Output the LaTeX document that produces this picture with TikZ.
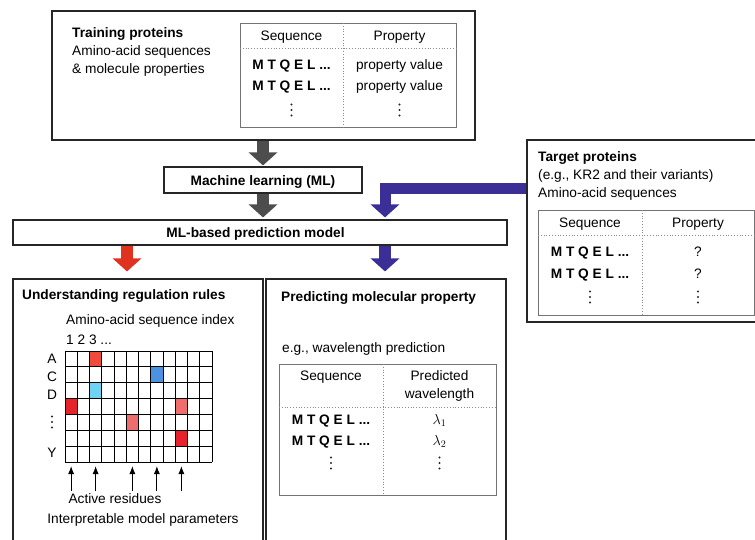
\documentclass[tikz,border=0pt]{standalone}
\usepackage{amsmath}
\usepackage{fontspec}
\setmainfont{Liberation Sans}
\usetikzlibrary{arrows.meta,calc,positioning}

\definecolor{arrgray}{HTML}{4D4D4D}
\definecolor{arrblue}{HTML}{3B2E96}
\definecolor{arrred}{HTML}{E0331F}
\definecolor{cellred}{HTML}{E6222C}
\definecolor{cellorange}{HTML}{F04A3A}
\definecolor{cellpink}{HTML}{EE6E6E}
\definecolor{cellblue}{HTML}{4B93E0}
\definecolor{cellcyan}{HTML}{6FD4F4}

\begin{document}
\begin{tikzpicture}[x=1pt, y=-1pt, >=latex,
  every node/.style={font=\fontsize{13.7}{16.5}\selectfont},
  box/.style={draw=black!85, line width=1.1pt, inner sep=0pt},
  tab/.style={draw=black!55, line width=1pt, inner sep=0pt},
  sep/.style={draw=black!45, dotted, line width=0.8pt},
  lbl/.style={anchor=base west, inner sep=0pt},
  ctr/.style={anchor=base, inner sep=0pt},
  seqtxt/.style={anchor=base, inner sep=0pt,
    font=\fontsize{13.7}{16.5}\selectfont\bfseries},
  fat/.style={line width=12pt, -{Triangle[width=28pt,length=13pt]}},
  gridline/.style={line width=1pt, black},
  coldots/.pic={\foreach \k in {-5.5,0,5.5} \fill[black!85] (0,\k) circle (1.1pt);},
]

  % 画布范围
  \useasboundingbox (0,0) rectangle (755,539);

  % 网格参数
  \def\gx{65}
  \def\gy{351}
  \def\cw{12.25}
  \def\rh{15.86}

  % 外框
  \node[box, minimum width=423pt, minimum height=129pt] (train) at (263.5,75.5) {};
  \node[box, minimum width=198pt, minimum height=26pt] (ml) at (263,180) {};
  \node[box, minimum width=494pt, minimum height=25pt] (model) at (260,232.5) {};
  \node[box, minimum width=233pt, minimum height=182pt] (target) at (643.5,231) {};
  \node[box, minimum width=250pt, minimum height=281pt] (rules) at (138,419.5) {};
  \node[box, minimum width=240pt, minimum height=281pt] (predict) at (386,419.5) {};

  \node[seqtxt] (mltxt) at (263,185) {Machine learning (ML)};
  \node[seqtxt] (modeltxt) at (255.5,237.7) {ML-based prediction model};

  % 训练数据
  \node[lbl] (trtitle) at (72,37) {\bfseries Training proteins};
  \node[lbl] (trline1) at (72,55) {Amino-acid sequences};
  \node[lbl] (trline2) at (72,73) {\& molecule properties};

  \node[tab, minimum width=216pt, minimum height=104pt] (trtab) at (348,75) {};
  \draw[sep] (240,48) -- (456,48);
  \draw[sep] (343,23) -- (343,127);
  \node[ctr] (trhead1) at (291.5,40) {Sequence};
  \node[ctr] (trhead2) at (399.5,40) {Property};
  \node[seqtxt] (trseq1) at (291.5,69.3) {M T Q E L ...};
  \node[seqtxt] (trseq2) at (291.5,90.7) {M T Q E L ...};
  \node[ctr] (trval1) at (399.5,69.3) {property value};
  \node[ctr] (trval2) at (399.5,90.7) {property value};
  \pic (trdots1) at (291.5,110) {coldots};
  \pic (trdots2) at (399.5,110) {coldots};

  % 目标蛋白
  \node[lbl] (tgtitle) at (538,161) {\bfseries Target proteins};
  \node[lbl] (tgline1) at (538,179) {(e.g., KR2 and their variants)};
  \node[lbl] (tgline2) at (538,197.7) {Amino-acid sequences};

  \node[tab, minimum width=216pt, minimum height=105pt] (tgtab) at (646,262.5) {};
  \draw[sep] (538,235) -- (754,235);
  \draw[sep] (642,210) -- (642,315);
  \node[ctr] (tghead1) at (590,227) {Sequence};
  \node[ctr] (tghead2) at (698,227) {Property};
  \node[seqtxt] (tgseq1) at (590,256) {M T Q E L ...};
  \node[seqtxt] (tgseq2) at (590,278) {M T Q E L ...};
  \node[ctr] (tgval1) at (698,256) {?};
  \node[ctr] (tgval2) at (698,278) {?};
  \pic (tgdots1) at (590,297) {coldots};
  \pic (tgdots2) at (698,297) {coldots};

  % 粗箭头
  \draw[fat, arrgray, shorten >=1pt] (ml.north |- train.south) -- (ml.north);
  \draw[fat, arrgray, shorten >=2pt] (ml.south) -- (model.north -| ml.south);

  \coordinate (bend) at (385,188);
  \draw[arrblue, line width=11pt, line join=miter, -{Triangle[width=28pt,length=13pt]},
    shorten >=2pt] (target.west |- bend) -- (bend) -- (bend |- model.north);

  \coordinate (redx) at (127,0);
  \draw[fat, arrred, shorten >=7pt] (model.south -| redx) -- (rules.north -| redx);
  \draw[fat, arrblue, shorten >=7pt] (model.south -| bend) -- (predict.north -| bend);

  % 规则解释部分
  \node[lbl] (rutitle) at (22,299) {\bfseries Understanding regulation rules};
  \node[lbl] (ruindex) at (66,324) {Amino-acid sequence index};
  \node[lbl] (runum) at (66,344) {1 2 3 ...};

  % 着色格子
  \foreach \c/\r/\col in {2/0/cellorange, 7/1/cellblue, 2/2/cellcyan, 0/3/cellred,
                          9/3/cellpink, 5/4/cellpink, 9/5/cellred}
    \fill[\col] ({\gx+\c*\cw},{\gy+\r*\rh}) rectangle ++(\cw,\rh);

  % 网格线
  \foreach \i in {0,...,12}
    \draw[gridline] ({\gx+\i*\cw},\gy) -- ({\gx+\i*\cw},{\gy+7*\rh});
  \foreach \j in {0,...,7}
    \draw[gridline] (\gx,{\gy+\j*\rh}) -- ({\gx+12*\cw},{\gy+\j*\rh});

  % 行标签
  \node[ctr] (rowA) at (52,363) {A};
  \node[ctr] (rowC) at (52,381.5) {C};
  \node[ctr] (rowD) at (52,399) {D};
  \pic (rowdots) at (52,422) {coldots};
  \node[ctr] (rowY) at (52,457) {Y};

  \node[ctr] (act) at (115,503) {Active residues};
  \node[ctr] (interp) at (143,523) {Interpretable model parameters};

  % 活性残基箭头
  \foreach \c in {0,2,5,7,9} {
    \coordinate (col\c) at ({\gx+(\c+0.5)*\cw},{\gy+7*\rh});
    \draw[-{Latex[length=8pt,width=6pt]}, line width=0.9pt, shorten <=2pt, shorten >=4pt]
      (act.north -| col\c) -- (col\c);
  }

  % 预测部分
  \node[lbl] (prtitle) at (281,301) {\bfseries Predicting molecular property};
  \node[lbl] (prexample) at (282,352) {e.g., wavelength prediction};

  \node[tab, minimum width=217pt, minimum height=131pt] (prtab) at (387.5,429.5) {};
  \draw[sep] (279,407) -- (496,407);
  \draw[sep] (383,364) -- (383,495);
  \node[ctr] (prhead1) at (331,380) {Sequence};
  \node[ctr] (prhead2) at (439.5,380) {Predicted};
  \node[ctr] (prhead3) at (439.5,398) {wavelength};
  \node[seqtxt] (prseq1) at (331,424) {M T Q E L ...};
  \node[seqtxt] (prseq2) at (331,445) {M T Q E L ...};
  \node[ctr] (prval1) at (439.5,424) {$\lambda_1$};
  \node[ctr] (prval2) at (439.5,445) {$\lambda_2$};
  \pic (prdots1) at (331,463) {coldots};
  \pic (prdots2) at (439.5,463) {coldots};

\end{tikzpicture}
\end{document}
